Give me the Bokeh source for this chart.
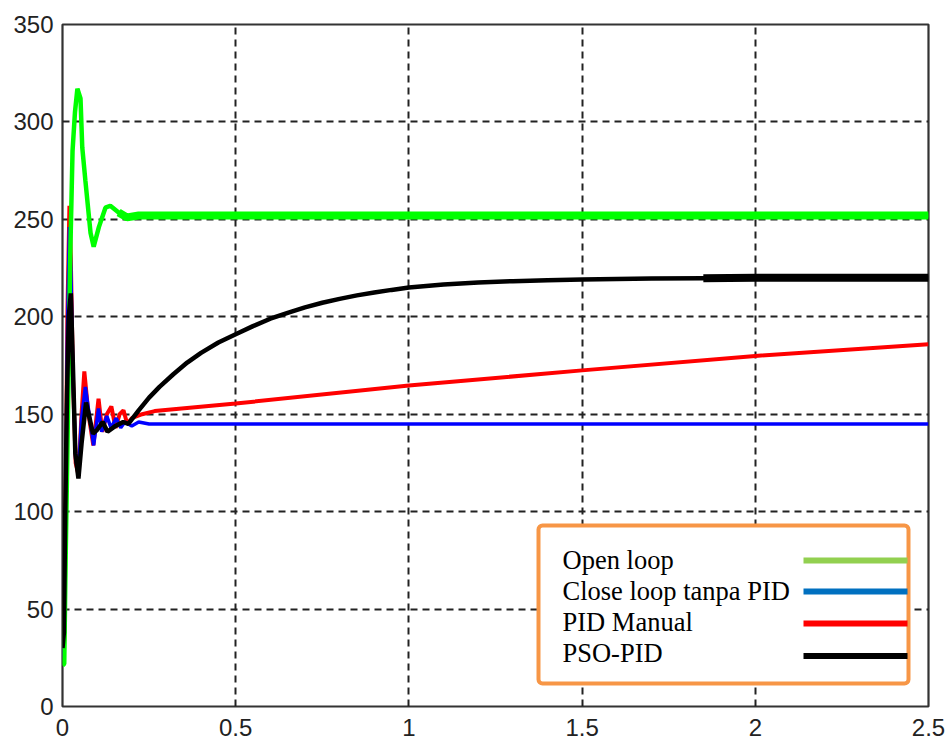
import numpy as np
from bokeh.plotting import figure
from bokeh.models import Range1d, FixedTicker, BoxAnnotation, Label
from bokeh.embed import file_html
from bokeh.resources import INLINE

# ---------------- data ----------------
X_TICKS = [0.0, 0.5, 1.0, 1.5, 2.0, 2.5]
X_TICK_LABELS = ["0", "0.5", "1", "1.5", "2", "2.5"]
Y_TICKS = [0, 50, 100, 150, 200, 250, 300, 350]

open_t = [0.0, 0.005, 0.009, 0.014, 0.018, 0.022, 0.029, 0.036, 0.043, 0.052, 0.057,
          0.066, 0.081, 0.09, 0.105, 0.124, 0.138, 0.162, 0.186, 0.22, 0.27, 0.6,
          1.0, 1.5, 2.0, 2.5]
open_v = [21, 22, 75, 130, 176, 229, 285, 305, 317, 312, 287,
          270, 243, 236, 246, 256, 257, 253.5, 251, 252, 252, 252,
          252, 252, 252, 252]

close_t = [0.0, 0.003, 0.006, 0.01, 0.014, 0.02, 0.024, 0.03, 0.038, 0.046, 0.055,
           0.066, 0.077, 0.09, 0.104, 0.113, 0.128, 0.14, 0.155, 0.168, 0.18, 0.2,
           0.22, 0.25, 0.27, 2.5]
close_v = [25, 25, 40, 115, 190, 246, 225, 170, 127, 120, 148,
           164, 150, 134, 153, 141, 149, 143, 148, 143, 146, 144,
           146, 145, 145, 145]

pid_t = [0.0, 0.003, 0.006, 0.01, 0.014, 0.02, 0.024, 0.03, 0.038, 0.046, 0.055,
         0.063, 0.075, 0.089, 0.104, 0.115, 0.128, 0.141, 0.153, 0.165, 0.176,
         0.187, 0.2, 0.23, 0.266, 0.5, 1.0, 1.5, 2.0, 2.5]
pid_v = [25, 25, 40, 120, 200, 257, 230, 170, 125, 119, 150,
         172, 150, 134, 158, 141, 150, 154, 143, 150, 152,
         145, 148, 150, 151.6, 155.5, 164.7, 172.5, 179.9, 185.9]

pso_t = [0.0, 0.004, 0.008, 0.013, 0.018, 0.024, 0.03, 0.037, 0.046, 0.055, 0.068,
         0.078, 0.088, 0.1, 0.116, 0.13, 0.153, 0.175, 0.19, 0.22, 0.25, 0.28,
         0.32, 0.36, 0.4, 0.45, 0.5, 0.55, 0.6, 0.65, 0.7, 0.75, 0.8, 0.85,
         0.9, 0.95, 1.0, 1.1, 1.2, 1.3, 1.4, 1.5, 1.7, 1.85, 2.0, 2.5]
pso_v = [30, 38, 100, 160, 200, 212, 175, 130, 117, 135, 156,
         148, 140, 142, 146, 141, 144, 146, 145, 152, 158.5, 164,
         170.5, 176.5, 181.5, 186.8, 191, 195.2, 199, 202, 204.8, 207.2, 209.2, 211,
         212.5, 213.8, 215, 216.6, 217.6, 218.3, 218.8, 219.1, 219.6, 219.8, 220, 220]

LEGEND_LABELS = ["Open loop", "Close loop tanpa PID", "PID Manual", "PSO-PID"]
LEGEND_COLORS = ["#92D050", "#0070C0", "#FF0000", "#000000"]

# ---------------- figure ----------------
W, H = 949, 740
X_MAX, Y_MAX = 2.5, 350
FL, FR, FT, FB = 62, 928, 24, 706  # frame edges in picture pixels

p = figure(width=W, height=H, x_range=Range1d(0, X_MAX), y_range=Range1d(0, Y_MAX),
           output_backend="svg", toolbar_location=None,
           min_border_left=FL, min_border_right=W - FR, min_border_top=FT,
           min_border_bottom=H - FB)
p.background_fill_color = "white"
p.border_fill_color = "white"
p.outline_line_color = "#333333"
p.outline_line_width = 2.2

p.xaxis.ticker = FixedTicker(ticks=X_TICKS)
p.xaxis.major_label_overrides = {t: l for t, l in zip(X_TICKS, X_TICK_LABELS)}
p.yaxis.ticker = FixedTicker(ticks=Y_TICKS)
for ax in (p.xaxis, p.yaxis):
    ax.axis_line_color = None
    ax.major_tick_line_color = None
    ax.minor_tick_line_color = None
    ax.major_tick_out = 0
    ax.major_tick_in = 0
    ax.major_label_text_font = "Liberation Sans"
    ax.major_label_text_font_size = "24px"
    ax.major_label_text_color = "#222222"
p.xaxis.major_label_text_line_height = 0.7
p.xaxis.major_label_standoff = 12
p.yaxis.major_label_standoff = 9

p.grid.grid_line_color = "#222222"
p.grid.grid_line_width = 2
p.grid.grid_line_dash = "7 5"

# curves
p.line(pid_t, pid_v, line_color="#FF0000", line_width=4)
p.line(close_t, close_v, line_color="#0000FF", line_width=3.5)
ot = np.array(open_t); ov = np.array(open_v)
p.line(ot, ov, line_color="#00FF00", line_width=4.5)
m = ot >= 0.16
p.line(ot[m], ov[m], line_color="#00FF00", line_width=8)
bt = np.array(pso_t); bv = np.array(pso_v)
p.line(bt, bv, line_color="#000000", line_width=4.5)
mb = bt >= 1.85
p.line(bt[mb], bv[mb], line_color="#000000", line_width=8)


# ---------------- legend (placed in picture pixels) ----------------
def xd(px):
    return (px - FL) / (FR - FL) * X_MAX


def yd(py):
    return (FB - py) / (FB - FT) * Y_MAX


p.add_layout(BoxAnnotation(left=xd(538), right=xd(908), top=yd(525), bottom=yd(683),
                           fill_color="white", fill_alpha=1.0,
                           line_color="#F79646", line_alpha=1.0, line_width=4,
                           border_radius=4))
rows_text = [559, 590, 621, 652.5]
rows_line = [560, 591, 623, 655.5]
for lab, col, yt, yl in zip(LEGEND_LABELS, LEGEND_COLORS, rows_text, rows_line):
    p.add_layout(Label(x=xd(562), y=yd(yt), text=lab, text_font="Liberation Serif",
                       text_font_size="26.5px", text_color="black",
                       text_baseline="middle", text_align="left"))
    r = p.segment(x0=[xd(803)], y0=[yd(yl)], x1=[xd(907)], y1=[yd(yl)],
                  line_color=col, line_width=6)
    r.level = "overlay"

open("out.html", "w").write(file_html(p, INLINE))
